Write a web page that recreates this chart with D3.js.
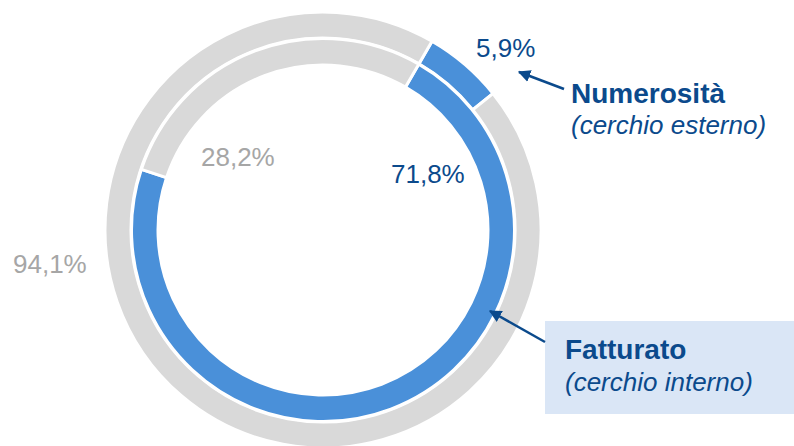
<!DOCTYPE html>
<html><head><meta charset="utf-8">
<script src="https://cdn.jsdelivr.net/npm/d3@7"></script>
<style>body{margin:0;background:#fff}svg{display:block;font-family:"Liberation Sans",Arial,sans-serif}</style>
</head><body><svg id="c" width="794" height="446"></svg>
<script>
const segments = ["Quota", "Resto"];
const outerValues = [5.9, 94.1];   // Numerosità (cerchio esterno)
const innerValues = [71.8, 28.2];  // Fatturato (cerchio interno)
const outerLabels = ["5,9%", "94,1%"];
const innerLabels = ["71,8%", "28,2%"];
const legendTitles = ["Numerosità", "Fatturato"];
const legendSubs = ["(cerchio esterno)", "(cerchio interno)"];

const svg = d3.select("#c");
const cx = 323, cy = 230;
const blue = "#4a90d9", grey = "#d9d9d9", dark = "#0b4a8c", greyText = "#a6a6a6";
const color = d3.scaleOrdinal().domain(segments).range([blue, grey]);

const start = 30 * Math.PI / 180;
const pie = d3.pie().sort(null).startAngle(start).endAngle(start + 2 * Math.PI);

const g = svg.append("g").attr("transform", `translate(${cx},${cy})`);
const outerArc = d3.arc().innerRadius(192).outerRadius(218);
const innerArc = d3.arc().innerRadius(165).outerRadius(191.5);

g.selectAll("path.o").data(pie(outerValues)).join("path").attr("class", "o")
  .attr("d", outerArc).attr("fill", (d, i) => color(segments[i]))
  .attr("stroke", "#fff").attr("stroke-width", 3);
g.selectAll("path.i").data(pie(innerValues)).join("path").attr("class", "i")
  .attr("d", innerArc).attr("fill", (d, i) => color(segments[i]))
  .attr("stroke", "#fff").attr("stroke-width", 3);

// percentage labels
const pct = [
  {t: outerLabels[0], x: 476, y: 57, c: dark},
  {t: outerLabels[1], x: 13, y: 273, c: greyText},
  {t: innerLabels[0], x: 391, y: 183, c: dark},
  {t: innerLabels[1], x: 201, y: 166, c: greyText}
];
svg.selectAll("text.p").data(pct).join("text").attr("class", "p")
  .attr("x", d => d.x).attr("y", d => d.y).attr("fill", d => d.c)
  .attr("font-size", 26).text(d => d.t);

// legend box for Fatturato
svg.append("rect").attr("x", 545).attr("y", 321).attr("width", 260).attr("height", 93).attr("fill", "#dae6f6");

const defs = svg.append("defs");
defs.append("marker").attr("id", "ah").attr("viewBox", "0 0 10 10").attr("refX", 9).attr("refY", 5)
  .attr("markerWidth", 5).attr("markerHeight", 5).attr("orient", "auto")
  .append("path").attr("d", "M0,0L10,5L0,10z").attr("fill", dark);

svg.append("line").attr("x1", 564).attr("y1", 89).attr("x2", 519).attr("y2", 72)
  .attr("stroke", dark).attr("stroke-width", 2.5).attr("marker-end", "url(#ah)");
svg.append("line").attr("x1", 545).attr("y1", 342).attr("x2", 490).attr("y2", 311)
  .attr("stroke", dark).attr("stroke-width", 2.5).attr("marker-end", "url(#ah)");

const leg = [
  {x: 571, y1: 103, y2: 134},
  {x: 565, y1: 359, y2: 391}
];
leg.forEach((p, i) => {
  svg.append("text").attr("x", p.x).attr("y", p.y1).attr("fill", dark)
    .attr("font-size", 28).attr("font-weight", "bold").text(legendTitles[i]);
  svg.append("text").attr("x", p.x).attr("y", p.y2).attr("fill", dark)
    .attr("font-size", 26).attr("font-style", "italic").text(legendSubs[i]);
});
</script></body></html>
